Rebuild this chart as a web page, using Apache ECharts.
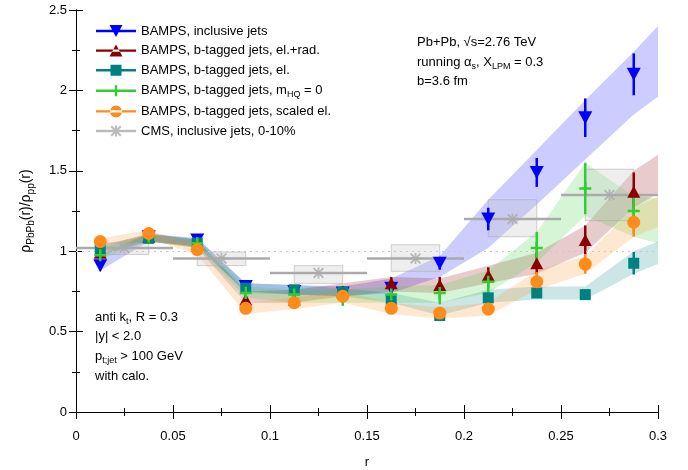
<!DOCTYPE html>
<html><head><meta charset="utf-8">
<script src="https://cdn.jsdelivr.net/npm/echarts@6/dist/echarts.min.js"></script>
<style>html,body{margin:0;padding:0;background:#fff}#c{width:688px;height:470px}</style>
</head><body><div id="c"></div>
<script>
// ---- data ----
const rBins = [0.0125,0.0375,0.0625,0.0875,0.1125,0.1375,0.1625,0.1875,0.2125,0.2375,0.2625,0.2875];
const bandR = [0.0125,0.0375,0.0625,0.0875,0.1125,0.1375,0.1625,0.1875,0.2125,0.2375,0.2625,0.2875,0.3];

const incVal = [0.91,1.09,1.07,0.78,0.75,0.74,0.77,0.925,1.20,1.49,1.83,2.10];
const incErr = [0.03,0.02,0.02,0.02,0.02,0.02,0.03,0.04,0.07,0.09,0.12,0.13];
const incLo  = [0.88,1.06,1.03,0.75,0.73,0.72,0.74,0.84,1.02,1.29,1.57,1.85,1.96];
const incHi  = [0.98,1.11,1.08,0.80,0.79,0.78,0.83,0.97,1.32,1.63,1.94,2.24,2.40];

const radVal = [0.99,1.09,1.04,0.70,0.70,0.75,0.80,0.79,0.85,0.925,1.07,1.37];
const radErr = [0.02,0.02,0.02,0.03,0.03,0.03,0.04,0.05,0.05,0.07,0.09,0.12];
const radLo  = [0.97,1.06,1.02,0.68,0.68,0.72,0.75,0.74,0.80,0.86,0.99,1.27,1.36];
const radHi  = [1.03,1.11,1.07,0.75,0.76,0.80,0.84,0.83,0.91,0.99,1.16,1.50,1.60];

const elVal = [1.01,1.08,1.05,0.77,0.76,0.745,0.70,0.60,0.71,0.74,0.73,0.925];
const elErr = [0.02,0.01,0.02,0.02,0.02,0.02,0.03,0.03,0.03,0.03,0.03,0.07];
const elLo  = [0.99,1.06,1.03,0.74,0.73,0.72,0.68,0.60,0.68,0.70,0.70,0.86,0.92];
const elHi  = [1.04,1.10,1.08,0.80,0.79,0.77,0.74,0.68,0.76,0.78,0.78,1.00,1.06];

const m0Val = [0.975,1.09,1.05,0.74,0.73,0.72,0.73,0.74,0.81,1.02,1.39,1.25];
const m0Err = [0.04,0.02,0.03,0.05,0.05,0.06,0.07,0.07,0.07,0.10,0.16,0.14];
const m0Lo  = [0.95,1.06,1.02,0.71,0.68,0.68,0.68,0.68,0.74,0.93,1.22,1.09,1.05];
const m0Hi  = [1.01,1.11,1.07,0.78,0.76,0.76,0.78,0.79,0.88,1.12,1.55,1.34,1.33];

const scVal = [1.06,1.11,1.01,0.645,0.68,0.72,0.645,0.615,0.64,0.81,0.92,1.18];
const scErr = [0.02,0.02,0.02,0.02,0.02,0.03,0.03,0.03,0.03,0.06,0.06,0.09];
const scLo  = [1.01,1.08,0.98,0.61,0.64,0.68,0.61,0.58,0.60,0.76,0.86,1.09,1.15];
const scHi  = [1.08,1.13,1.04,0.68,0.71,0.75,0.68,0.65,0.68,0.88,0.97,1.27,1.34];

const cmsR   = [0.025,0.075,0.125,0.175,0.225,0.275];
const cmsHalfBin = [0.025,0.025,0.025,0.025,0.025,0.025];
const cmsVal = [1.02,0.955,0.865,0.955,1.20,1.35];
const cmsSysLo = [0.98,0.91,0.80,0.875,1.09,1.19];
const cmsSysHi = [1.05,0.995,0.91,1.04,1.32,1.51];

const names = ['BAMPS, inclusive jets','BAMPS, b-tagged jets, el.+rad.','BAMPS, b-tagged jets, el.','BAMPS, b-tagged jets, mHQ = 0','BAMPS, b-tagged jets, scaled el.','CMS, inclusive jets, 0-10%'];

// ---- styling ----
const C = {blue:'#0000ff', red:'#8b0000', teal:'#008080', green:'#33cc33', orange:'#ff8c1a', gray:'#aaaaaa'};
const FONT = '"Liberation Sans", Arial, sans-serif';
function rgba(hex,a){const n=parseInt(hex.slice(1),16);return `rgba(${n>>16},${(n>>8)&255},${n&255},${a})`;}

const PLUS = 'path://M4.75,0h2.5v12h-2.5zM0,4.75h12v2.5h-12z';
const STAR = 'path://M5,0h2v12h-2zM0,5h12v2h-12zM0,1.4L1.4,0L12,10.6L10.6,12zM10.6,0L12,1.4L1.4,12L0,10.6z';
const LN = 'M0,5.8L40,5.8L40,8.2L0,8.2Z';
const icons = [
  'path://'+LN+'M13.5,1L26.5,1L20,13Z',
  'path://'+LN+'M13.5,13L26.5,13L20,1Z',
  'path://'+LN+'M14.5,1.5L25.5,1.5L25.5,12.5L14.5,12.5Z',
  'path://'+LN+'M18.8,1.5L21.2,1.5L21.2,12.5L18.8,12.5Z',
  'path://'+LN+'M14,7a6,6 0 1,0 12,0a6,6 0 1,0 -12,0Z',
  'path://'+LN+'M19,1.5L21,1.5L21,12.5L19,12.5ZM14.5,6L25.5,6L25.5,8L14.5,8ZM14.5,2.9L15.9,1.5L25.5,11.1L24.1,12.5ZM24.1,1.5L25.5,2.9L15.9,12.5L14.5,11.1Z'
];

function band(lo,hi,color){
  return {type:'custom', silent:true, z:1, clip:true,
    data: bandR.map((r,i)=>[r,lo[i],hi[i]]),
    renderItem(p,api){
      if(p.dataIndex!==0) return null;
      const pts=[];
      for(let i=0;i<bandR.length;i++) pts.push(api.coord([bandR[i],hi[i]]));
      for(let i=bandR.length-1;i>=0;i--) pts.push(api.coord([bandR[i],lo[i]]));
      return {type:'polygon', shape:{points:pts}, style:{fill:rgba(color,0.2)}};
    }};
}
function errs(vals,es,color,w){
  return {type:'custom', silent:true, z:3,
    data: rBins.map((r,i)=>[r,vals[i]-es[i],vals[i]+es[i]]),
    renderItem(p,api){
      const a=api.coord([api.value(0),api.value(1)]), b=api.coord([api.value(0),api.value(2)]);
      return {type:'line', shape:{x1:a[0],y1:a[1],x2:b[0],y2:b[1]}, style:{stroke:color,lineWidth:w}};
    }};
}
function pts(name,vals,color,symbol,size,rot,z){
  return {type:'scatter', name, z, data: rBins.map((r,i)=>[r,vals[i]]), symbol, symbolSize:size, symbolRotate:rot||0,
    itemStyle:{color, opacity:1}, silent:true};
}

const series = [
  band(incLo,incHi,C.blue), band(radLo,radHi,C.red), band(elLo,elHi,C.teal), band(m0Lo,m0Hi,C.green), band(scLo,scHi,C.orange),
  {type:'custom', silent:true, z:2, data: cmsR.map((r,i)=>[r,cmsSysLo[i],cmsSysHi[i],cmsVal[i],cmsHalfBin[i]]),
    renderItem(p,api){
      const r=api.value(0), lo=api.value(1), hi=api.value(2), v=api.value(3), hb=api.value(4);
      const a=api.coord([r-hb/2,hi]), b=api.coord([r+hb/2,lo]);
      const l1=api.coord([r-hb,v]), l2=api.coord([r+hb,v]);
      return {type:'group', children:[
        {type:'rect', shape:{x:a[0],y:a[1],width:b[0]-a[0],height:b[1]-a[1]}, style:{fill:'rgba(200,200,200,0.3)',stroke:'rgba(170,170,170,0.55)',lineWidth:1}},
        {type:'line', shape:{x1:l1[0],y1:l1[1],x2:l2[0],y2:l2[1]}, style:{stroke:C.gray,lineWidth:2.5}}
      ]};
    },
    markLine:{silent:true, symbol:'none', label:{show:false}, data:[{yAxis:1}], lineStyle:{type:[2,4],color:'#c8c8c8',width:1}, animation:false}
  },
  {type:'scatter', name:names[5], z:3, data: cmsR.map((r,i)=>[r,cmsVal[i]]), symbol:STAR, symbolSize:11, itemStyle:{color:C.gray}, silent:true},
  errs(incVal,incErr,C.blue,2.5), errs(radVal,radErr,C.red,2.5), errs(elVal,elErr,C.teal,2.5), errs(m0Val,m0Err,C.green,2.5), errs(scVal,scErr,C.orange,2.5),
  pts(names[0],incVal,C.blue,'triangle',[14,13],180,4),
  pts(names[1],radVal,C.red,'triangle',[13,12],0,5),
  pts(names[2],elVal,C.teal,'rect',11,0,6),
  pts(names[3],m0Val,C.green,PLUS,12,0,7),
  pts(names[4],scVal,C.orange,'circle',13,0,8)
];

const axisCommon = {min:0, axisLine:{show:true,lineStyle:{color:'#000',width:1}}, axisTick:{inside:true,length:7,lineStyle:{color:'#000'}},
  minorTick:{show:true,splitNumber:2,length:4,lineStyle:{color:'#000'}}, splitLine:{show:false}};
const sub = {fontSize:9, fontFamily:FONT, color:'#000', verticalAlign:'bottom', lineHeight:18};
const subS = {fontSize:10, fontFamily:FONT, color:'#000', verticalAlign:'bottom', lineHeight:20};

const chart = echarts.init(document.getElementById('c'), null, {renderer:'canvas'});
chart.setOption({
  animation:false,
  backgroundColor:'#fff',
  textStyle:{fontFamily:FONT},
  grid:{left:76,right:30,top:10,bottom:58,outerBoundsMode:'none'},
  xAxis:[
    Object.assign({}, axisCommon, {type:'value', max:0.3, interval:0.05, position:'bottom',
      axisLabel:{show:true,color:'#000',fontSize:13,margin:18,fontFamily:FONT},
      name:'r', nameLocation:'middle', nameGap:44, nameTextStyle:{color:'#000',fontSize:13,fontFamily:FONT}}),
    Object.assign({}, axisCommon, {type:'value', max:0.3, interval:0.05, position:'top', axisLabel:{show:false}})
  ],
  yAxis:[
    Object.assign({}, axisCommon, {type:'value', max:2.5, interval:0.5, position:'left',
      axisLabel:{show:true,color:'#000',fontSize:13,margin:9,fontFamily:FONT},
      name:'ρ{s|PbPb}(r)/ρ{s|pp}(r)', nameLocation:'middle', nameGap:40, nameRotate:90,
      nameTextStyle:{color:'#000',fontSize:14,fontFamily:FONT,lineHeight:20,rich:{s:subS}}}),
    Object.assign({}, axisCommon, {type:'value', max:2.5, interval:0.5, position:'right', axisLabel:{show:false}})
  ],
  legend:{show:true, orient:'vertical', left:91, top:19, itemWidth:40, itemHeight:14, itemGap:5.6,
    selectedMode:false, symbolKeepAspect:true,
    data: names.map((n,i)=>({name:n, icon:icons[i]})),
    formatter: n => n.replace('mHQ','m{s|HQ}'),
    textStyle:{color:'#000',fontSize:13,fontFamily:FONT,lineHeight:14,rich:{s:Object.assign({},sub,{lineHeight:16})}}
  },
  graphic:[
    {type:'text', left:417, top:36, silent:true, style:{text:'Pb+Pb, √s=2.76 TeV', font:'13px '+FONT, fill:'#000'}},
    {type:'text', left:417, top:53, silent:true, style:{text:'running α{s|s}, X{s|LPM} = 0.3', font:'13px '+FONT, fill:'#000', lineHeight:18, rich:{s:sub}}},
    {type:'text', left:417, top:75, silent:true, style:{text:'b=3.6 fm', font:'13px '+FONT, fill:'#000'}},
    {type:'text', left:95, top:308, silent:true, style:{text:'anti k{s|t}, R = 0.3', font:'13px '+FONT, fill:'#000', lineHeight:18, rich:{s:sub}}},
    {type:'text', left:95, top:330, silent:true, style:{text:'|y| < 2.0', font:'13px '+FONT, fill:'#000'}},
    {type:'text', left:95, top:347, silent:true, style:{text:'p{s|t;jet} > 100 GeV', font:'13px '+FONT, fill:'#000', lineHeight:18, rich:{s:sub}}},
    {type:'text', left:95, top:370, silent:true, style:{text:'with calo.', font:'13px '+FONT, fill:'#000'}}
  ],
  series
});
</script></body></html>
